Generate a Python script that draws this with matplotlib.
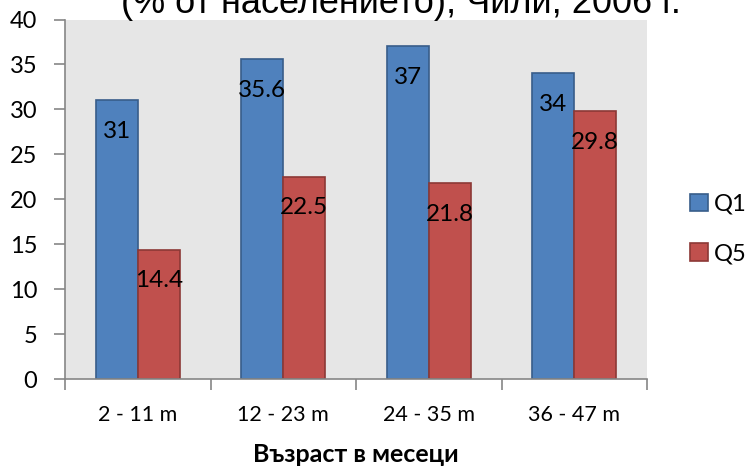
import matplotlib.pyplot as plt
import numpy as np

categories = ["2 - 11 m", "12 - 23 m", "24 - 35 m", "36 - 47 m"]
q1_values = [31, 35.6, 37, 34]
q5_values = [14.4, 22.5, 21.8, 29.8]
series_names = ["Q1", "Q5"]

plt.rcParams["font.family"] = ["Lato", "DejaVu Sans"]

W, H = 746, 466
fig = plt.figure(figsize=(W / 100, H / 100), dpi=100)
ax = fig.add_axes([65 / W, 1 - 379 / H, (647 - 65) / W, (379 - 19.5) / H])
ax.set_facecolor("#e6e6e6")

x = np.arange(len(categories))
bw = 0.288
b1 = ax.bar(x - bw / 2, q1_values, bw, color="#4f81bd", edgecolor="#385d8a",
            linewidth=1.2, label=series_names[0])
b2 = ax.bar(x + bw / 2, q5_values, bw, color="#c0504d", edgecolor="#8c3836",
            linewidth=1.2, label=series_names[1])

for bars, vals in ((b1, q1_values), (b2, q5_values)):
    for r, v in zip(bars, vals):
        ax.annotate(f"{v:g}", (r.get_x() + r.get_width() / 2, v),
                    xytext=(0, -31), textcoords="offset pixels",
                    ha="center", va="center", fontsize=17.5, color="black")

ax.set_xlim(-0.5, len(categories) - 0.5)
ax.set_ylim(0, 40)
ax.set_yticks(range(0, 41, 5))
ax.set_xticks(x)
ax.set_xticklabels(categories)
ax.set_xticks(np.arange(-0.5, len(categories)), minor=True)
ax.tick_params(axis="x", which="major", length=0, pad=19, labelsize=15.5)
ax.tick_params(axis="x", which="minor", length=8, color="#868686", width=1.2)
ax.tick_params(axis="y", length=8, color="#868686", width=1.2, labelsize=17, pad=12)

for side in ("top", "right"):
    ax.spines[side].set_visible(False)
for side in ("left", "bottom"):
    ax.spines[side].set_color("#868686")
    ax.spines[side].set_linewidth(1.2)

ax.set_xlabel("Възраст в месеци", fontsize=18, fontweight="bold", labelpad=13)

fig.legend(handles=[b1, b2], labels=series_names, loc="center left",
           bbox_to_anchor=(690 / W, 1 - 229 / H), frameon=False,
           borderaxespad=0, borderpad=0, fontsize=17, handlelength=0.75,
           handleheight=0.75, handletextpad=0.25, labelspacing=1.2)

fig.text(401 / W, 1 - 13 / H, "(% от населението), Чили, 2006 г.", ha="center",
         va="baseline", fontsize=26, family=["Liberation Sans", "DejaVu Sans"])

fig.savefig("out.png", dpi=100)
